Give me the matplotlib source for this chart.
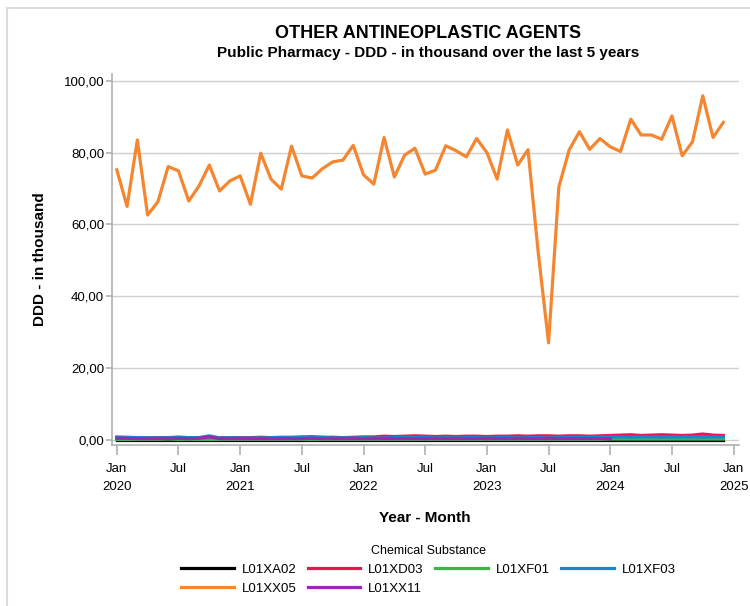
import matplotlib
import matplotlib.pyplot as plt
from matplotlib.patches import Rectangle

matplotlib.use("Agg")
plt.rcParams["font.family"] = ["Liberation Sans", "DejaVu Sans"]

# monthly values, Jan 2020 .. Dec 2024 (index 0..59)
months = list(range(60))
substances = ["L01XA02", "L01XD03", "L01XF01", "L01XF03", "L01XX05", "L01XX11"]
colors = ["#000000", "#E8174F", "#3BB54A", "#1A86CF", "#F5862F", "#9B27B5"]

l01xa02 = [0.05] * 60
l01xd03 = [
    0.6, 0.5, 0.6, 0.5, 0.6, 0.6, 0.7, 0.6, 0.6, 0.7, 0.6, 0.6,
    0.6, 0.6, 0.7, 0.6, 0.7, 0.7, 0.7, 0.6, 0.7, 0.7, 0.6, 0.7,
    0.8, 0.8, 1.0, 0.9, 1.0, 1.1, 1.0, 0.9, 1.0, 0.9, 1.0, 1.0,
    0.9, 1.0, 1.0, 1.1, 1.0, 1.1, 1.1, 1.0, 1.1, 1.1, 1.0, 1.1,
    1.2, 1.3, 1.4, 1.2, 1.3, 1.4, 1.3, 1.2, 1.3, 1.6, 1.3, 1.2,
]
l01xf01 = [
    0.1, 0.1, 0.1, 0.1, 0.1, 0.2, 0.1, 0.1, 0.1, 0.1, 0.1, 0.1,
    0.1, 0.1, 0.1, 0.1, 0.1, 0.1, 0.1, 0.1, 0.1, 0.1, 0.1, 0.1,
    0.1, 0.1, 0.1, 0.1, 0.1, 0.1, 0.1, 0.1, 0.1, 0.1, 0.1, 0.1,
    0.1, 0.1, 0.1, 0.1, 0.1, 0.1, 0.1, 0.1, 0.1, 0.1, 0.1, 0.1,
    0.2, 0.2, 0.2, 0.2, 0.2, 0.2, 0.2, 0.2, 0.2, 0.2, 0.2, 0.2,
]
l01xf03 = [
    0.8, 0.7, 0.6, 0.6, 0.5, 0.6, 0.7, 0.6, 0.6, 1.1, 0.5, 0.6,
    0.5, 0.5, 0.5, 0.6, 0.6, 0.6, 0.8, 0.9, 0.7, 0.5, 0.6, 0.5,
    0.6, 0.5, 0.5, 0.6, 0.7, 0.6, 0.6, 0.5, 0.6, 0.5, 0.6, 0.6,
    0.5, 0.6, 0.6, 0.5, 0.6, 0.6, 0.5, 0.6, 0.6, 0.7, 0.7, 0.8,
    0.8, 0.8, 0.7, 0.8, 0.8, 0.7, 0.8, 0.8, 0.8, 0.8, 0.8, 0.8,
]
l01xx05 = [
    75.2, 65.0, 83.5, 62.6, 66.3, 76.1, 74.9, 66.5, 70.7, 76.5, 69.3, 72.1,
    73.5, 65.6, 79.8, 72.6, 69.8, 81.8, 73.5, 72.9, 75.5, 77.4, 77.9, 82.0,
    73.8, 71.2, 84.2, 73.2, 79.3, 81.2, 74.0, 75.1, 81.9, 80.5, 78.8, 83.9,
    80.0, 72.6, 86.3, 76.5, 80.8, 52.0, 27.0, 70.4, 80.7, 85.8, 80.9, 83.9,
    81.6, 80.3, 89.3, 84.9, 84.9, 83.7, 90.2, 79.1, 83.0, 95.8, 84.2, 88.4,
]
l01xx11 = [
    0.4, 0.4, 0.3, 0.3, 0.3, 0.4, 0.4, 0.3, 0.4, 0.8, 0.3, 0.3,
    0.3, 0.3, 0.3, 0.3, 0.3, 0.3, 0.3, 0.4, 0.3, 0.3, 0.3, 0.3,
    0.3, 0.3, 0.3, 0.3, 0.3, 0.3, 0.3, 0.3, 0.3, 0.3, 0.3, 0.3,
    0.3, 0.3, 0.3, 0.3, 0.3, 0.3, 0.3, 0.3, 0.3, 0.3, 0.3, 0.3,
    0.3,
]
series = [l01xa02, l01xd03, l01xf01, l01xf03, l01xx05, l01xx11]

tick_pos = list(range(0, 61, 6))
tick_labels = ["Jan\n2020", "Jul", "Jan\n2021", "Jul", "Jan\n2022", "Jul",
               "Jan\n2023", "Jul", "Jan\n2024", "Jul", "Jan\n2025"]
y_ticks = [0, 20, 40, 60, 80, 100]

fig = plt.figure(figsize=(7.5, 6.06), dpi=100)
ax = fig.add_axes([0.149, 0.266, 0.836, 0.612])

lines = {}
for name, vals, col in zip(substances, series, colors):
    lines[name], = ax.plot(months[:len(vals)], vals, color=col, lw=2.3, label=name)

ax.set_xlim(-0.49, 60.5)
ax.set_ylim(-1.4, 101.9)
ax.set_yticks(y_ticks)
ax.set_yticklabels([f"{v:.2f}".replace(".", ",") for v in y_ticks])
ax.set_xticks(tick_pos)
ax.set_xticklabels(tick_labels, linespacing=1.65)
ax.grid(axis="y", color="#d0d0d0", lw=1.0)
ax.set_axisbelow(True)

for s in ["top", "right"]:
    ax.spines[s].set_visible(False)
for s in ["left", "bottom"]:
    ax.spines[s].set_color("#b0b0b0")
    ax.spines[s].set_linewidth(1.2)
ax.tick_params(axis="x", colors="#b0b0b0", length=7, width=1.2, labelcolor="black",
               labelsize=9.5, pad=6)
ax.tick_params(axis="y", colors="#b0b0b0", length=4, width=1.2, labelcolor="black",
               labelsize=9.5, pad=1.5)

ax.set_ylabel("DDD - in thousand", fontsize=11, fontweight="bold", labelpad=12)
ax.set_xlabel("Year - Month", fontsize=11, fontweight="bold", labelpad=13)

fig.text(0.571, 0.945, "OTHER ANTINEOPLASTIC AGENTS", ha="center", va="center",
         fontsize=13, fontweight="bold")
fig.text(0.571, 0.912, "Public Pharmacy - DDD - in thousand over the last 5 years",
         ha="center", va="center", fontsize=11, fontweight="bold")

# matplotlib fills legend columns first; order so rows read like the original
leg_order = ["L01XA02", "L01XX05", "L01XD03", "L01XX11", "L01XF01", "L01XF03"]
fig.legend([lines[n] for n in leg_order], leg_order,
           loc="upper center", bbox_to_anchor=(0.571, 0.12), ncol=4,
           frameon=False, title="Chemical Substance", fontsize=9.5,
           title_fontsize=9, handlelength=4.0, columnspacing=0.85,
           handletextpad=0.6, labelspacing=0.5)

fig.add_artist(Rectangle((7 / 750, -0.1), 1.2, 0.1 + 1 - 8 / 606,
                         transform=fig.transFigure, fill=False,
                         edgecolor="#dcdcdc", lw=1.5))

fig.savefig("out.png", dpi=100)
